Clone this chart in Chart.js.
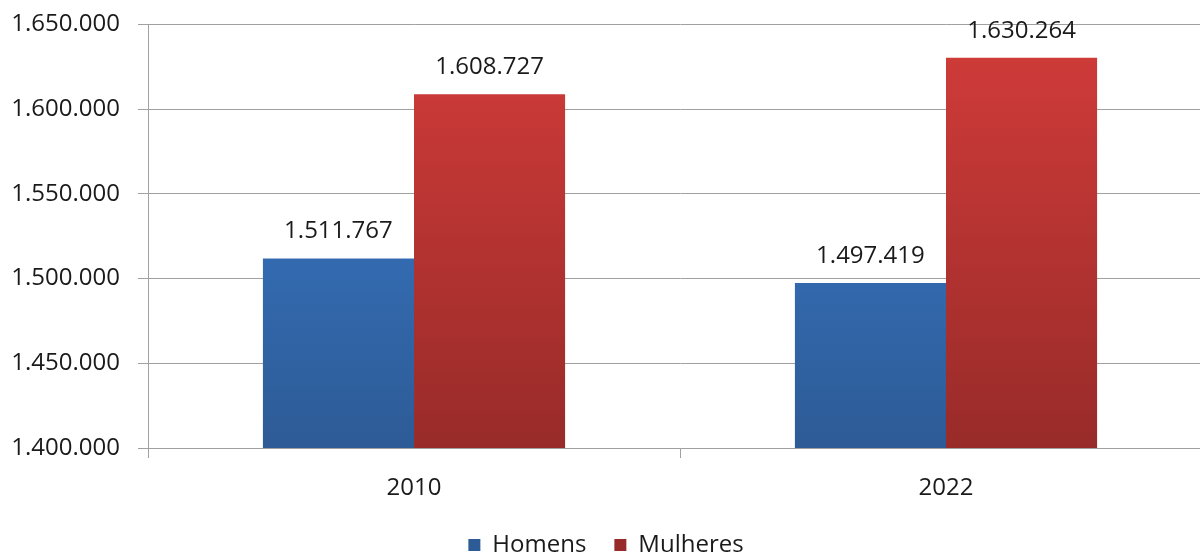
<!DOCTYPE html>
<html>
<head>
<meta charset="utf-8">
<script src="https://cdn.jsdelivr.net/npm/chart.js@4.4.0/dist/chart.umd.min.js"></script>
<style>
  html, body { margin: 0; padding: 0; background: #fff; overflow: hidden; }
  #wrap { width: 1200px; height: 553px; overflow: hidden; }
  #myChart { display: block; margin-top: -8px; }
</style>
</head>
<body>
<div id="wrap"><canvas id="myChart" width="1212" height="575"></canvas></div>
<script>
// data
let years = ['2010', '2022'];
let homens = [1511767, 1497419];
let mulheres = [1608727, 1630264];
let yMin = 1400000, yMax = 1650000, yStep = 50000;

function fmt(v) {
    return String(v).replace(/\B(?=(\d{3})+(?!\d))/g, '.');
}

function grad(ctx, top, bottom) {
    let area = ctx.chart.chartArea;
    if (!area) return top;
    let g = ctx.chart.ctx.createLinearGradient(0, area.top, 0, area.bottom);
    g.addColorStop(0, top);
    g.addColorStop(1, bottom);
    return g;
}

let valueLabels = {
    id: 'valueLabels',
    afterDatasetsDraw(chart) {
        let c = chart.ctx;
        c.save();
        c.font = '24px "Open Sans"';
        c.fillStyle = '#1a1a1a';
        c.textAlign = 'center';
        c.textBaseline = 'middle';
        chart.data.datasets.forEach((ds, i) => {
            chart.getDatasetMeta(i).data.forEach((bar, j) => {
                c.fillText(fmt(ds.data[j]), bar.x, bar.y - 27);
            });
        });
        c.restore();
    }
};

Chart.defaults.font.family = '"Open Sans"';
Chart.defaults.font.size = 24;
Chart.defaults.color = '#1a1a1a';

let chart = new Chart(document.getElementById('myChart'), {
    type: 'bar',
    data: {
        labels: years,
        datasets: [{
            label: 'Homens',
            data: homens,
            backgroundColor: ctx => grad(ctx, '#3b7dd0', '#2d5b96'),
            borderWidth: 0,
            categoryPercentage: 0.568,
            barPercentage: 1.0
        }, {
            label: 'Mulheres',
            data: mulheres,
            backgroundColor: ctx => grad(ctx, '#d23c3a', '#982b29'),
            borderWidth: 0,
            categoryPercentage: 0.568,
            barPercentage: 1.0
        }]
    },
    options: {
        responsive: false,
        animation: false,
        layout: { padding: { top: 16, right: 0, left: 0, bottom: 0 } },
        plugins: {
            tooltip: { enabled: false },
            legend: {
                position: 'bottom',
                labels: {
                    boxWidth: 12,
                    boxHeight: 12,
                    padding: 28,
                    font: { size: 24 },
                    color: '#1a1a1a'
                }
            }
        },
        scales: {
            x: {
                grid: { drawOnChartArea: false, drawTicks: true, tickLength: 10, color: '#a0a0a0', offset: true },
                border: { color: '#a0a0a0' },
                ticks: { padding: 16 },
                afterFit: s => { s.height = 57; }
            },
            y: {
                min: yMin,
                max: yMax,
                ticks: { stepSize: yStep, padding: 18, callback: v => fmt(v) },
                grid: { color: '#a0a0a0', tickLength: 10 },
                border: { color: '#a0a0a0' },
                afterFit: s => { s.width = 148; }
            }
        }
    },
    plugins: [valueLabels]
});
</script>
</body>
</html>
